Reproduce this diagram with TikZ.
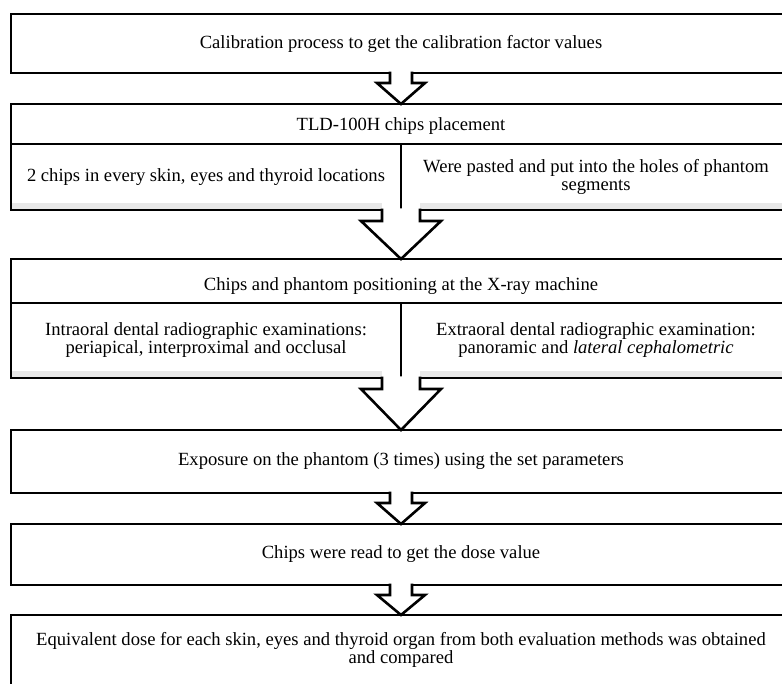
\documentclass[tikz,border=0pt]{standalone}
\usepackage{fontspec}
\setmainfont{Liberation Serif}
\usetikzlibrary{calc}
\newcommand\txtfont{\fontsize{18.6}{18}\selectfont}
\newcommand\blockarr[5]{%
  \fill[white] let \p1=(#1), \p2=(#2) in
    (\x1-#3pt,\y1+1.6pt) -- (\x1-#3pt,\y1-#5pt) -- (\x1-#4pt,\y1-#5pt) -- (\x2,\y2)
    -- (\x1+#4pt,\y1-#5pt) -- (\x1+#3pt,\y1-#5pt) -- (\x1+#3pt,\y1+1.6pt) -- cycle;
  \draw[arrline] let \p1=(#1), \p2=(#2) in
    (\x1-#3pt,\y1+1.3pt) -- (\x1-#3pt,\y1-#5pt) -- (\x1-#4pt,\y1-#5pt) -- (\x2,\y2)
    -- (\x1+#4pt,\y1-#5pt) -- (\x1+#3pt,\y1-#5pt) -- (\x1+#3pt,\y1+1.3pt);
}
\begin{document}
\begin{tikzpicture}[x=1pt,y=-1pt,
  box/.style={draw, line width=2.6pt, inner sep=0pt, outer sep=0pt, align=center,
    font=\txtfont, minimum width=#1},
  box/.default=780pt,
  lbl/.style={inner sep=0pt, align=center, font=\txtfont},
  arrline/.style={draw, line width=2.6pt, line join=miter, miter limit=10},
  band/.style={fill={rgb,255:red,232;green,232;blue,232}}]
\useasboundingbox (0,0) rectangle (782,683);
\clip (0,0) rectangle (782,683);
\fill[white] (0,0) rectangle (782,683);

\node[box, minimum height=59pt] (b1) at (401,43.5)
  {Calibration process to get the calibration factor values};

\node[box, minimum height=40pt] (b2h) at (401,124) {};
\node[lbl] (b2ht) at (401,126) {TLD-100H chips placement};
\node[box=390pt, minimum height=66pt] (b2l) at (206,177)
  {2 chips in every skin, eyes and thyroid locations};
\node[box=390pt, minimum height=66pt] (b2r) at (596,177)
  {Were pasted and put into the holes of phantom\\segments};

\node[box, minimum height=44pt] (b3h) at (401,281) {};
\node[lbl] (b3ht) at (401,286) {Chips and phantom positioning at the X-ray machine};
\node[box=390pt, minimum height=75pt] (b3l) at (206,340.5)
  {Intraoral dental radiographic examinations:\\periapical, interproximal and occlusal};
\node[box=390pt, minimum height=75pt] (b3r) at (596,340.5)
  {Extraoral dental radiographic examination:\\panoramic and \textit{lateral cephalometric}};

\node[box, minimum height=63pt] (b4) at (401,461.5)
  {Exposure on the phantom (3 times) using the set parameters};
\node[box, minimum height=61pt] (b5) at (401,554.5)
  {Chips were read to get the dose value};
\node[box, minimum height=70pt] (b6) at (401,650)
  {Equivalent dose for each skin, eyes and thyroid organ from both evaluation methods was obtained\\and compared};

\fill[band] ([xshift=1.3pt,yshift=1.3pt]b2l.south west) rectangle ([xshift=-19pt,yshift=7pt]b2l.south east);
\fill[band] ([xshift=19pt,yshift=1.3pt]b2r.south west) rectangle ([xshift=-1.3pt,yshift=7pt]b2r.south east);
\fill[band] ([xshift=1.3pt,yshift=1.3pt]b3l.south west) rectangle ([xshift=-19pt,yshift=7pt]b3l.south east);
\fill[band] ([xshift=19pt,yshift=1.3pt]b3r.south west) rectangle ([xshift=-1.3pt,yshift=7pt]b3r.south east);

\blockarr{b1.south}{b2h.north}{11}{24}{10}
\blockarr{b2l.south east}{b3h.north}{19}{40}{11}
\blockarr{b3l.south east}{b4.north}{19}{40}{11}
\blockarr{b4.south}{b5.north}{11}{24}{10}
\blockarr{b5.south}{b6.north}{11}{24}{10}
\end{tikzpicture}
\end{document}
